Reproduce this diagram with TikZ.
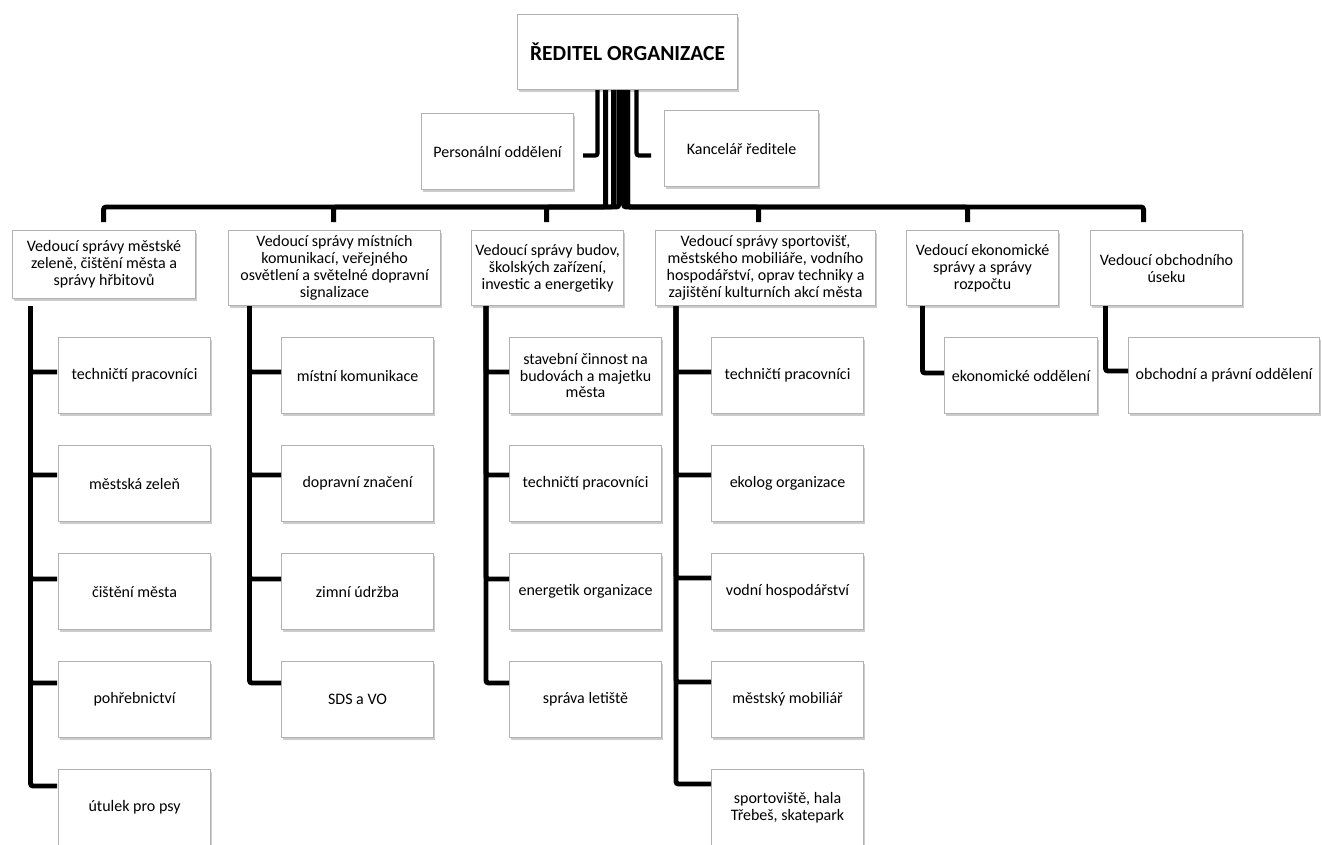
\documentclass[tikz,border=0pt]{standalone}
\usepackage{fontspec}
\setmainfont{Carlito}
\usetikzlibrary{calc,shadows}
\begin{document}
\begin{tikzpicture}[x=1pt,y=-1pt,
  box/.style={draw=gray!60, line width=1.1pt, fill=white, align=center, inner sep=2pt,
    anchor=north west, font=\fontsize{16}{16.9}\selectfont,
    drop shadow={shadow xshift=1.2pt, shadow yshift=-2.6pt, opacity=0.2, fill=black}},
  headbox/.style={box, minimum height=75pt},
  leaf/.style={box, minimum width=152pt, minimum height=76pt},
  conn/.style={line width=4.9pt, rounded corners=2.5pt, draw=black}]
\useasboundingbox (0,0) rectangle (1322,844);

% director and staff
\node[box, minimum width=220pt, minimum height=75pt, font=\fontsize{21.5}{24}\selectfont\bfseries] (dir) at (517,14) {ŘEDITEL ORGANIZACE};
\node[box, minimum width=152pt, minimum height=76pt] (pers) at (421,113) {Personální oddělení};
\node[box, minimum width=154pt, minimum height=76pt] (kanc) at (664,110) {Kancelář ředitele};

% heads
\node[box, minimum width=183pt, minimum height=68pt] (b1) at (12,230) {Vedoucí správy městské\\zeleně, čištění města a\\správy hřbitovů};
\node[headbox, minimum width=212pt] (b2) at (228,230) {Vedoucí správy místních\\komunikací, veřejného\\osvětlení a světelné dopravní\\signalizace};
\node[headbox, minimum width=152pt] (b3) at (471,230) {Vedoucí správy budov,\\školských zařízení,\\investic a energetiky};
\node[headbox, minimum width=220pt] (b4) at (655,230) {Vedoucí správy sportovišť,\\městského mobiliáře, vodního\\hospodářství, oprav techniky a\\zajištění kulturních akcí města};
\node[headbox, minimum width=152pt] (b5) at (906,230) {Vedoucí ekonomické\\správy a správy\\rozpočtu};
\node[headbox, minimum width=152pt] (b6) at (1090,230) {Vedoucí obchodního\\úseku};

% column 1
\node[leaf] (c11) at (58,337) {techničtí pracovníci};
\node[leaf] (c12) at (58,445) {městská zeleň};
\node[leaf] (c13) at (58,553) {čištění města};
\node[leaf] (c14) at (58,661) {pohřebnictví};
\node[leaf] (c15) at (58,769) {útulek pro psy};
% column 2
\node[leaf] (c21) at (281,337) {místní komunikace};
\node[leaf] (c22) at (281,445) {dopravní značení};
\node[leaf] (c23) at (281,553) {zimní údržba};
\node[leaf] (c24) at (281,661) {SDS a VO};
% column 3
\node[leaf] (c31) at (509,337) {stavební činnost na\\budovách a majetku\\města};
\node[leaf] (c32) at (509,445) {techničtí pracovníci};
\node[leaf] (c33) at (509,553) {energetik organizace};
\node[leaf] (c34) at (509,661) {správa letiště};
% column 4
\node[leaf] (c41) at (711,337) {techničtí pracovníci};
\node[leaf] (c42) at (711,445) {ekolog organizace};
\node[leaf] (c43) at (711,553) {vodní hospodářství};
\node[leaf] (c44) at (711,661) {městský mobiliář};
\node[leaf] (c45) at (711,769) {sportoviště, hala\\Třebeš, skatepark};
% column 5, 6
\node[leaf, minimum width=153pt] (c51) at (944,337) {ekonomické oddělení};
\node[leaf, minimum width=191pt] (c61) at (1128,337) {obchodní a právní oddělení};

% director connectors
\draw[conn, line width=4.3pt] ($(dir.south)+(-30,0)$) |- ($(pers.east)+(9,4)$);
\draw[conn, line width=4.3pt] ($(dir.south)+(9,0)$) |- ($(kanc.west)+(-13,7)$);
\draw[conn] ($(dir.south)+(-22,0)$) |- ($(b1.north)+(-0.5,-23)$) -- ($(b1.north)+(-0.5,-8)$);
\draw[conn] ($(dir.south)+(-14,0)$) |- ($(b2.north)+(-1,-23)$) -- ($(b2.north)+(-1,-8)$);
\draw[conn] ($(dir.south)+(-8.7,0)$) |- ($(b3.north)+(-1,-23)$) -- ($(b3.north)+(-1,-8)$);
\draw[conn] ($(dir.south)+(-4,0)$) |- ($(b4.north)+(-7,-23)$) -- ($(b4.north)+(-7,-8)$);
\draw[conn] ($(dir.south)+(0.2,0)$) |- ($(b5.north)+(-15,-23)$) -- ($(b5.north)+(-15,-8)$);
\draw[conn] ($(dir.south)+(0.2,0)$) |- ($(b6.north)+(-23,-23)$) -- ($(b6.north)+(-23,-8)$);

% column connectors
\coordinate (v1) at ($(b1.south west)+(18.5,7)$);
\coordinate (v2) at ($(b2.south west)+(21.5,0)$);
\coordinate (v3) at ($(b3.south west)+(15,0)$);
\coordinate (v4) at ($(b4.south west)+(21,0)$);
\coordinate (v5) at ($(b5.south west)+(16.5,0)$);
\coordinate (v6) at ($(b6.south west)+(15.5,0)$);

\draw[conn] (v1) |- ($(c11.north west)+(-1,35)$);
\draw[conn] (v1) |- ($(c12.north west)+(-1,30)$);
\draw[conn] (v1) |- ($(c13.north west)+(-1,26)$);
\draw[conn] (v1) |- ($(c14.north west)+(-1,22)$);
\draw[conn] (v1) |- ($(c15.north west)+(-1,17)$);

\draw[conn] (v2) |- ($(c21.north west)+(0,35)$);
\draw[conn] (v2) |- ($(c22.north west)+(0,30)$);
\draw[conn] (v2) |- ($(c23.north west)+(0,26)$);
\draw[conn] (v2) |- ($(c24.north west)+(0,22)$);

\draw[conn] (v3) |- ($(c31.north west)+(0,35)$);
\draw[conn] (v3) |- ($(c32.north west)+(0,30)$);
\draw[conn] (v3) |- ($(c33.north west)+(0,26)$);
\draw[conn] (v3) |- ($(c34.north west)+(0,22)$);

\draw[conn] (v4) |- ($(c41.north west)+(0,35)$);
\draw[conn] (v4) |- ($(c42.north west)+(0,30)$);
\draw[conn] (v4) |- ($(c43.north west)+(0,25)$);
\draw[conn] (v4) |- ($(c44.north west)+(0,21)$);
\draw[conn] (v4) |- ($(c45.north west)+(0,15)$);

\draw[conn] (v5) |- ($(c51.north west)+(0,36)$);
\draw[conn] (v6) |- ($(c61.north west)+(0,34)$);
\end{tikzpicture}
\end{document}
